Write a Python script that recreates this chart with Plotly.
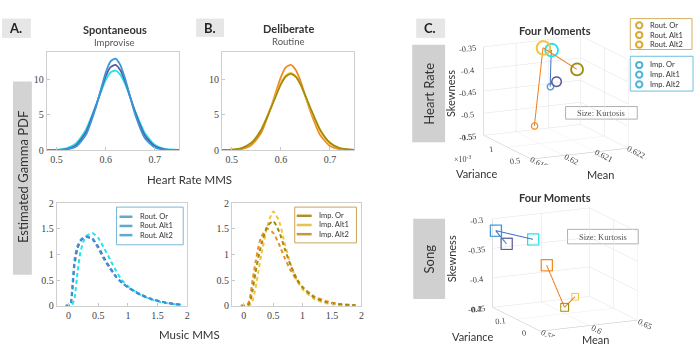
import plotly.graph_objects as go

# ---------------- data ----------------
hr_x = [0.48, 0.50, 0.52, 0.54, 0.56, 0.58, 0.60, 0.61, 0.62, 0.63, 0.64, 0.66, 0.68, 0.70, 0.72, 0.75]
imp_hr_or   = [0.00, 0.01, 0.08, 0.51, 2.19, 6.04, 10.95, 12.57, 12.97, 12.05, 10.05, 5.10, 1.69, 0.37, 0.05, 0.00]
imp_hr_alt1 = [0.00, 0.02, 0.15, 0.74, 2.57, 6.23, 10.43, 11.75, 12.08, 11.32, 9.69, 5.38, 2.07, 0.56, 0.10, 0.01]
imp_hr_alt2 = [0.00, 0.04, 0.24, 0.98, 2.93, 6.33, 9.92, 11.01, 11.28, 10.67, 9.31, 5.57, 2.42, 0.76, 0.17, 0.01]
rout_hr_or   = [0.00, 0.02, 0.14, 0.70, 2.50, 6.12, 10.35, 11.72, 12.08, 11.38, 9.80, 5.50, 2.13, 0.58, 0.11, 0.01]
rout_hr_alt1 = [0.01, 0.06, 0.28, 1.03, 2.88, 6.00, 9.32, 10.41, 10.80, 10.41, 9.32, 6.00, 2.88, 1.03, 0.28, 0.02]
rout_hr_alt2 = [0.01, 0.05, 0.27, 1.02, 2.93, 6.12, 9.52, 10.60, 10.94, 10.47, 9.28, 5.85, 2.72, 0.93, 0.24, 0.01]

mu_x = [-0.05, 0.0, 0.03, 0.06, 0.10, 0.15, 0.20, 0.25, 0.30, 0.40, 0.50, 0.60, 0.70, 0.80, 0.90, 1.00, 1.20, 1.40, 1.60, 1.80, 1.90]
imp_mu_or   = [0, 0, 0.02, 0.35, 0.90, 1.17, 1.28, 1.33, 1.35, 1.30, 1.12, 0.90, 0.72, 0.56, 0.45, 0.36, 0.23, 0.13, 0.07, 0.03, 0.02]
imp_mu_alt1 = [0, 0, 0.01, 0.25, 0.80, 1.12, 1.26, 1.32, 1.34, 1.31, 1.15, 0.93, 0.74, 0.57, 0.45, 0.36, 0.22, 0.13, 0.07, 0.03, 0.02]
imp_mu_alt2 = [0, 0, 0.00, 0.02, 0.15, 0.65, 1.05, 1.25, 1.36, 1.42, 1.32, 1.12, 0.90, 0.68, 0.50, 0.38, 0.22, 0.12, 0.06, 0.03, 0.02]
rout_mu_or   = [0, 0, 0, 0.02, 0.12, 0.50, 0.85, 1.15, 1.35, 1.50, 1.42, 1.20, 0.92, 0.68, 0.50, 0.36, 0.18, 0.09, 0.04, 0.02, 0.01]
rout_mu_alt1 = [0, 0, 0, 0.00, 0.05, 0.30, 0.65, 0.95, 1.20, 1.55, 1.65, 1.45, 1.10, 0.78, 0.53, 0.36, 0.16, 0.07, 0.03, 0.01, 0.01]
rout_mu_alt2 = [0, 0, 0, 0.00, 0.00, 0.10, 0.35, 0.68, 1.00, 1.55, 1.84, 1.65, 1.20, 0.80, 0.50, 0.32, 0.13, 0.05, 0.02, 0.01, 0.00]

# four moments, order: Imp Or, Imp Alt1, Imp Alt2, Rout Or, Rout Alt1, Rout Alt2
hr_mean = [0.62079, 0.62093, 0.62066, 0.62044, 0.62111, 0.62045]
hr_var  = [1.320e-3, 1.288e-3, 1.210e-3, 1.415e-3, 0.980e-3, 1.240e-3]
hr_skew = [-0.445, -0.433, -0.355, -0.536, -0.390, -0.350]
hr_kurt = [3.00, 3.20, 3.40, 3.00, 3.35, 3.45]

song_mean = [0.5505, 0.5543, 0.5890, 0.5859, 0.5897, 0.6054]
song_var  = [0.190, 0.160, 0.190, 0.120, 0.060, 0.080]
song_skew = [-0.318, -0.335, -0.340, -0.369, -0.429, -0.418]
song_kurt = [3.10, 3.10, 3.10, 3.10, 2.95, 2.90]

hr_links = [(2, 0), (5, 3), (5, 4)]
song_links = [(0, 2), (0, 1), (3, 4), (4, 5)]

hr_ticks = [0.5, 0.6, 0.7]
hr_yticks = [0, 5, 10]
mu_ticks = [0, 0.5, 1, 1.5, 2]
rout_names = ["Rout. Or", "Rout. Alt1", "Rout. Alt2"]
imp_names = ["Imp. Or", "Imp. Alt1", "Imp. Alt2"]

# ---------------- style ----------------
C_BLUE, C_PURP, C_CYAN = "#3b95d8", "#5a5c9c", "#1fe3ee"
C_ORNG, C_OLIV, C_GOLD = "#f08a24", "#a08c0c", "#f3c53e"
cols = [C_BLUE, C_PURP, C_CYAN, C_ORNG, C_OLIV, C_GOLD]
SERIF = "Liberation Serif"
SANS = "Lato"
W, H = 700, 362


def px(x):
    return x / W


def py(y):
    return 1 - y / H


fig = go.Figure()


def add_curve(x, y, c, ax, dash=None, width=1.8):
    fig.add_trace(go.Scatter(x=x, y=y, mode="lines",
                             line=dict(color=c, width=width, shape="spline", smoothing=0.6, dash=dash),
                             xaxis="x" + ax, yaxis="y" + ax, showlegend=False, hoverinfo="skip"))


add_curve(hr_x, imp_hr_alt2, C_CYAN, "")
add_curve(hr_x, imp_hr_alt1, C_PURP, "")
add_curve(hr_x, imp_hr_or, C_BLUE, "")
add_curve(hr_x, rout_hr_or, C_ORNG, "2")
add_curve(hr_x, rout_hr_alt2, C_GOLD, "2")
add_curve(hr_x, rout_hr_alt1, C_OLIV, "2")

DASH = "4px,3px"
add_curve(mu_x, imp_mu_alt2, C_CYAN, "3", dash=DASH, width=2)
add_curve(mu_x, imp_mu_alt1, C_PURP, "3", dash=DASH, width=2)
add_curve(mu_x, imp_mu_or, C_BLUE, "3", dash=DASH, width=2)
add_curve(mu_x, rout_mu_alt2, C_GOLD, "4", dash=DASH, width=2)
add_curve(mu_x, rout_mu_or, C_ORNG, "4", dash=DASH, width=2)
add_curve(mu_x, rout_mu_alt1, C_OLIV, "4", dash=DASH, width=2)


# 3D moments
def add_moments(mean, var, skew, kurt, links, scene, symbol):
    for a, b in links:
        lc = "#3a6fc8" if a < 3 else "#f07d1a"
        fig.add_trace(go.Scatter3d(x=[mean[a], mean[b]], y=[var[a], var[b]], z=[skew[a], skew[b]], mode="lines",
                                   line=dict(color=lc, width=2), scene=scene, showlegend=False, hoverinfo="skip"))
    for i in range(6):
        fig.add_trace(go.Scatter3d(x=[mean[i]], y=[var[i]], z=[skew[i]], mode="markers",
                                   marker=dict(symbol=symbol, size=(kurt[i] - 2.6) * 10, color=cols[i], opacity=1,
                                               line=dict(color=cols[i], width=3)),
                                   scene=scene, showlegend=False, hoverinfo="skip"))


add_moments(hr_mean, hr_var, hr_skew, hr_kurt, hr_links, "scene", "circle-open")
add_moments(song_mean, song_var, song_skew, song_kurt, song_links, "scene2", "square-open")


# ---------------- layout ----------------
def ax2d(dom, rng, ticks, anchor):
    return dict(domain=dom, range=rng, tickvals=ticks, showline=True, mirror=True, linecolor="#cfcfcf", linewidth=1,
                ticks="inside", ticklen=3, tickcolor="#c8c8c8", showgrid=False, zeroline=False, anchor=anchor,
                tickfont=dict(family=SERIF, size=10, color="#444"), fixedrange=True)


def ax3d(rng, tv, tt):
    return dict(range=rng, tickvals=tv, ticktext=tt, showbackground=False, gridcolor="#e2e2e2", gridwidth=1,
                showline=True, linecolor="#c0c0c0", zeroline=False, showspikes=False, title=dict(text=""),
                tickfont=dict(family=SERIF, size=10, color="#444"))


CAM = dict(eye=dict(x=-0.83, y=-1.75, z=0.475), projection=dict(type="orthographic"))
ASPECT = dict(x=1.59, y=1.64, z=1.35)
top_y = [py(149), py(48)]
bot_y = [py(310), py(204)]
fig.update_layout(
    width=W, height=H, margin=dict(l=0, r=0, t=0, b=0), paper_bgcolor="white", plot_bgcolor="white",
    showlegend=False,
    xaxis=ax2d([px(47), px(180)], [0.48, 0.75], hr_ticks, "y"),
    yaxis=ax2d(top_y, [0, 13.85], hr_yticks, "x"),
    xaxis2=ax2d([px(223), px(356)], [0.48, 0.75], hr_ticks, "y2"),
    yaxis2=ax2d(top_y, [0, 13.85], hr_yticks, "x2"),
    xaxis3=ax2d([px(57), px(188)], [-0.2, 2], mu_ticks, "y3"),
    yaxis3=ax2d(bot_y, [0, 2], mu_ticks, "x3"),
    xaxis4=ax2d([px(233), px(363)], [-0.2, 2], mu_ticks, "y4"),
    yaxis4=ax2d(bot_y, [0, 2], mu_ticks, "x4"),
    scene=dict(domain=dict(x=[px(461), px(656)], y=[py(165), py(25)]),
               xaxis=ax3d([0.619, 0.622], [0.619, 0.62, 0.621, 0.622], ["0.619", "0.62", "0.621", "0.622"]),
               yaxis=ax3d([0.5e-3, 1.5e-3], [0.5e-3, 1e-3, 1.5e-3], ["0.5", "1", "1.5"]),
               zaxis=ax3d([-0.55, -0.35], [-0.55, -0.5, -0.45, -0.4, -0.35],
                          ["-0.55", "-0.5", "-0.45", "-0.4", "-0.35"]),
               aspectmode="manual", aspectratio=ASPECT, camera=CAM),
    scene2=dict(domain=dict(x=[px(470), px(665)], y=[py(343), py(203)]),
                xaxis=ax3d([0.55, 0.65], [0.55, 0.6, 0.65], ["0.55", "0.6", "0.65"]),
                yaxis=ax3d([0, 0.2], [0, 0.1, 0.2], ["0", "0.1", "0.2"]),
                zaxis=ax3d([-0.45, -0.3], [-0.45, -0.4, -0.35, -0.3], ["-0.45", "-0.4", "-0.35", "-0.3"]),
                aspectmode="manual", aspectratio=ASPECT, camera=CAM),
)

shapes = []
anns = []


def box(x0, y0, x1, y1, fill, line=None):
    shapes.append(dict(type="rect", xref="paper", yref="paper", x0=px(x0), x1=px(x1), y0=py(y1), y1=py(y0),
                       fillcolor=fill, line=dict(width=1 if line else 0, color=line or fill), layer="below"))


def text(x, y, s, size, color="#333", family=SANS, angle=0, bold=False, xanchor="center"):
    anns.append(dict(x=px(x), y=py(y), xref="paper", yref="paper", text=("<b>%s</b>" % s) if bold else s,
                     showarrow=False, textangle=angle, xanchor=xanchor, yanchor="middle",
                     font=dict(family=family, size=size, color=color)))


def legend_box(x0, y0, x1, y1, border, names, colors, kind, ys, sym_x, text_x):
    shapes.append(dict(type="rect", xref="paper", yref="paper", x0=px(x0), x1=px(x1), y0=py(y1), y1=py(y0),
                       fillcolor="white", line=dict(width=1, color=border), layer="above"))
    for nm, c, yy in zip(names, colors, ys):
        if kind == "line":
            shapes.append(dict(type="line", xref="paper", yref="paper", x0=px(sym_x[0]), x1=px(sym_x[1]),
                               y0=py(yy), y1=py(yy), line=dict(color=c, width=2.5), layer="above"))
        else:
            r = 3.2
            shapes.append(dict(type="circle", xref="paper", yref="paper", x0=px(sym_x - r), x1=px(sym_x + r),
                               y0=py(yy + r), y1=py(yy - r), line=dict(color=c, width=2), layer="above"))
        text(text_x, yy, nm, 7.5, "#333", xanchor="left")


legend_box(117, 208, 184, 247, "#7ab8d6", rout_names, ["#62aacc"] * 3, "line", [218, 227.5, 237], (120, 133), 139)
legend_box(296, 208, 358, 245, "#c9a458", imp_names, ["#b48c2c", "#e6c24e", "#c49a36"], "line",
           [217, 226.5, 236], (298, 313), 318)
legend_box(633, 13, 695, 45, "#d6b060", rout_names, ["#d9a935"] * 3, "circle", [20, 30, 40], 642, 651)
legend_box(633, 52, 696, 88, "#6cc0dc", imp_names, ["#4fb3d6"] * 3, "circle", [61, 71, 81], 642, 651)

box(2, 13, 31, 33, "#e6e6e6")
text(16, 23, "A.", 13, "#222", bold=True)
box(197, 13, 225, 32, "#e6e6e6")
text(211, 22.5, "B.", 13, "#222", bold=True)
box(418, 13, 447, 33, "#e6e6e6")
text(432, 23, "C.", 13, "#222", bold=True)

text(115, 24, "Spontaneous", 11, "#333", bold=True)
text(115, 38, "Improvise", 9.5, "#555")
text(290, 23, "Deliberate", 11, "#333", bold=True)
text(290, 37, "Routine", 9.5, "#555")

box(13, 78, 32, 278, "#d3d3d3")
text(23, 177, "Estimated Gamma PDF", 13, "#333", angle=-90)
text(190, 179, "Heart Rate MMS", 11.5, "#333")
text(190, 340, "Music MMS", 11.5, "#333")

text(557, 25, "Four Moments", 11, "#333", bold=True)
text(557, 198, "Four Moments", 11, "#333", bold=True)
box(414, 40, 447, 141, "#d0d0d0")
text(430.5, 91, "Heart Rate", 13, "#333", angle=-90)
box(415, 220, 447, 303, "#d0d0d0")
text(431, 262, "Song", 13, "#333", angle=-90)

box(568, 104, 640, 117, "white", "#b0b0b0")
text(604, 110.5, "Size: Kurtosis", 8.5, "#555", family=SERIF)
box(570, 231, 641, 246, "white", "#b0b0b0")
text(605.5, 238.5, "Size: Kurtosis", 8.5, "#555", family=SERIF)

text(453, 91, "Skewness", 11, "#333", angle=-90)
text(479, 173, "Variance", 11, "#333")
text(603, 174, "Mean", 11, "#333")
text(464, 158, "×10<sup>-3</sup>", 8, "#444", family=SERIF)
text(453, 262, "Skewness", 11, "#333", angle=-90)
text(475, 342, "Variance", 11, "#333")
text(598, 345, "Mean", 11, "#333")

fig.update_layout(shapes=shapes, annotations=anns)
fig.write_html("out.html", config={"displayModeBar": False},
               post_script="document.body.style.margin='0px';")
